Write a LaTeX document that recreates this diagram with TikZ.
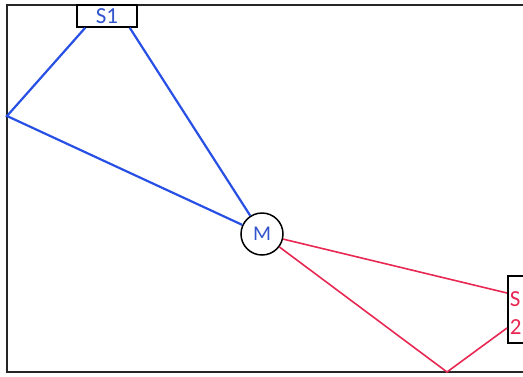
\documentclass[tikz,border=0pt]{standalone}
\usepackage{fontspec}
\setmainfont{Carlito}
\usetikzlibrary{positioning}
\definecolor{lineblue}{RGB}{40,80,228}
\definecolor{textblue}{RGB}{50,85,205}
\definecolor{linered}{RGB}{232,40,82}
\tikzset{
  bluewire/.style={draw=lineblue,line width=2.2pt},
  redwire/.style={draw=linered,line width=1.6pt},
  sensorbox/.style={draw,line width=1.5pt,fill=white,inner sep=0pt,font=\fontsize{23}{28}\selectfont},
}

\begin{document}
\begin{tikzpicture}[x=1pt,y=-1pt]
\useasboundingbox (0,0) rectangle (523,376);
\clip (0,0) rectangle (523,376);
% frame
\draw[line width=1.6pt,draw=black!85] (7,5) rectangle (560,372);
% free ends
\coordinate (wallpt) at (7,116);
\coordinate (floorpt) at (447,372);
% nodes
\node[sensorbox,text=textblue,minimum width=60pt,minimum height=22pt] (s1) at (107,16) {S1\hspace{6pt}};
\node[draw,circle,line width=1.5pt,fill=white,minimum size=42pt,inner sep=0pt,text=textblue,font=\fontsize{21}{21}\selectfont] (m) at (262,234) {M};
\node[sensorbox,text=linered,anchor=west,minimum width=40pt,minimum height=67pt,text width=36pt,text height=21.5pt,align=left,inner xsep=1.5pt] (s2) at (507,309.5) {S\\2};
% blue paths
\draw[bluewire] ([xshift=9pt]s1.south west) -- (wallpt) -- (m);
\draw[bluewire] ([xshift=-8pt]s1.south east) -- (m);
% red paths
\draw[redwire] (m) -- ([yshift=16.5pt]s2.west);
\draw[redwire] (m) -- (floorpt) -- ([yshift=-18.5pt]s2.west);
\end{tikzpicture}
\end{document}
